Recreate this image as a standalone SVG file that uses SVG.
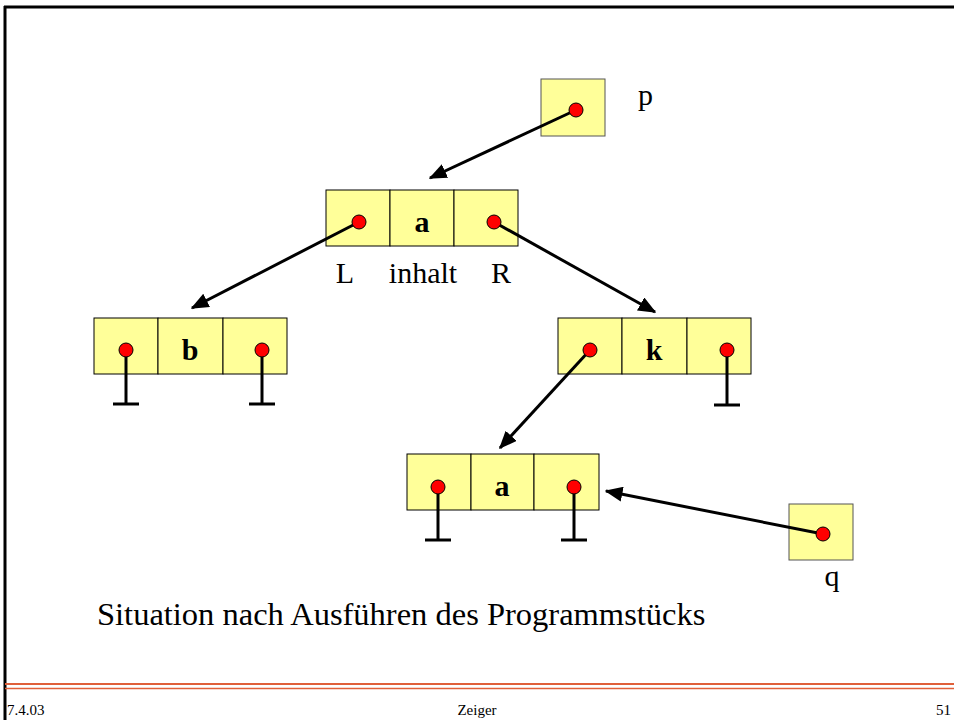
<svg xmlns="http://www.w3.org/2000/svg" width="954" height="720" viewBox="0 0 954 720">
<style>
.cell{fill:#FFFF99;stroke:#000;stroke-width:1}
.box{fill:#FFFF99;stroke:#555;stroke-width:1}
.dot{fill:#FF0000;stroke:#000;stroke-width:1}
.stem{stroke:#000;stroke-width:3;fill:none}
.conn{stroke:#000;stroke-width:3;fill:none}
.lbl{font-family:"Liberation Serif",serif;font-size:30px;fill:#000}
.bold{font-family:"Liberation Serif",serif;font-size:30px;font-weight:bold;fill:#000}
.cap{font-family:"Liberation Serif",serif;font-size:32.5px;fill:#000}
.foot{font-family:"Liberation Serif",serif;font-size:15px;fill:#000}
</style>
<defs>
<marker id="ah" markerWidth="6" markerHeight="5" refX="5.5" refY="2.5" orient="auto" markerUnits="strokeWidth">
<path d="M0,0 L6,2.5 L0,5 Z" fill="#000"/>
</marker>
</defs>
<rect width="954" height="720" fill="#fff"/>
<g id="frame">
<line x1="4" y1="7" x2="954" y2="7" stroke="#000" stroke-width="3"/>
<line x1="5" y1="6" x2="5" y2="720" stroke="#000" stroke-width="3"/>
<line x1="5" y1="684" x2="954" y2="684" stroke="#E0603A" stroke-width="2"/>
<line x1="5" y1="688.5" x2="954" y2="688.5" stroke="#E0603A" stroke-width="1.5"/>
<text class="foot" x="7" y="715">7.4.03</text>
<text class="foot" x="477" y="715" text-anchor="middle">Zeiger</text>
<text class="foot" x="951" y="715" text-anchor="end">51</text>
</g>
<g id="p">
<rect class="box" x="541" y="79" width="64" height="57"/>
<text class="lbl" x="638" y="105">p</text>
</g>
<g id="nodeTop">
<rect class="cell" x="326" y="190" width="64" height="56"/>
<rect class="cell" x="390" y="190" width="64" height="56"/>
<rect class="cell" x="454" y="190" width="64" height="56"/>
<text class="bold" x="422" y="232" text-anchor="middle">a</text>
<text class="lbl" x="345" y="283" text-anchor="middle">L</text>
<text class="lbl" x="423" y="283" text-anchor="middle">inhalt</text>
<text class="lbl" x="501" y="283" text-anchor="middle">R</text>
</g>
<g id="nodeB">
<rect class="cell" x="94" y="318" width="64" height="56"/>
<rect class="cell" x="158" y="318" width="65" height="56"/>
<rect class="cell" x="223" y="318" width="64" height="56"/>
<line class="stem" x1="126" y1="350" x2="126" y2="404"/>
<line class="stem" x1="113" y1="404" x2="139" y2="404"/>
<line class="stem" x1="262" y1="350" x2="262" y2="404"/>
<line class="stem" x1="249" y1="404" x2="275" y2="404"/>
<circle class="dot" cx="126" cy="350" r="7"/>
<circle class="dot" cx="262" cy="350" r="7"/>
<text class="bold" x="190" y="360" text-anchor="middle">b</text>
</g>
<g id="nodeK">
<rect class="cell" x="558" y="318" width="64" height="56"/>
<rect class="cell" x="622" y="318" width="65" height="56"/>
<rect class="cell" x="687" y="318" width="64" height="56"/>
<line class="stem" x1="727" y1="350" x2="727" y2="405"/>
<line class="stem" x1="714" y1="405" x2="740" y2="405"/>
<circle class="dot" cx="727" cy="350" r="7"/>
<text class="bold" x="654" y="360" text-anchor="middle">k</text>
</g>
<g id="nodeA2">
<rect class="cell" x="407" y="454" width="64" height="56"/>
<rect class="cell" x="471" y="454" width="63" height="56"/>
<rect class="cell" x="534" y="454" width="65" height="56"/>
<line class="stem" x1="438" y1="487" x2="438" y2="540"/>
<line class="stem" x1="425" y1="540" x2="451" y2="540"/>
<line class="stem" x1="574" y1="487" x2="574" y2="540"/>
<line class="stem" x1="561" y1="540" x2="587" y2="540"/>
<circle class="dot" cx="438" cy="487" r="7"/>
<circle class="dot" cx="574" cy="487" r="7"/>
<text class="bold" x="502" y="496" text-anchor="middle">a</text>
</g>
<g id="q">
<rect class="box" x="789" y="504" width="64" height="56"/>
<text class="lbl" x="832" y="586" text-anchor="middle">q</text>
</g>
<g id="connectors">
<line class="conn" x1="576" y1="110" x2="430" y2="178" marker-end="url(#ah)"/>
<line class="conn" x1="359" y1="222" x2="192" y2="308" marker-end="url(#ah)"/>
<line class="conn" x1="494" y1="222" x2="655" y2="312" marker-end="url(#ah)"/>
<line class="conn" x1="590" y1="350" x2="500" y2="448" marker-end="url(#ah)"/>
<line class="conn" x1="823" y1="534" x2="606" y2="491" marker-end="url(#ah)"/>
</g>
<g id="pointerDots">
<circle class="dot" cx="576" cy="110" r="7"/>
<circle class="dot" cx="359" cy="222" r="7"/>
<circle class="dot" cx="494" cy="222" r="7"/>
<circle class="dot" cx="590" cy="350" r="7"/>
<circle class="dot" cx="823" cy="534" r="7"/>
</g>
<g id="caption">
<text class="cap" x="97" y="625">Situation nach Ausführen des Programmstücks</text>
</g>
</svg>
